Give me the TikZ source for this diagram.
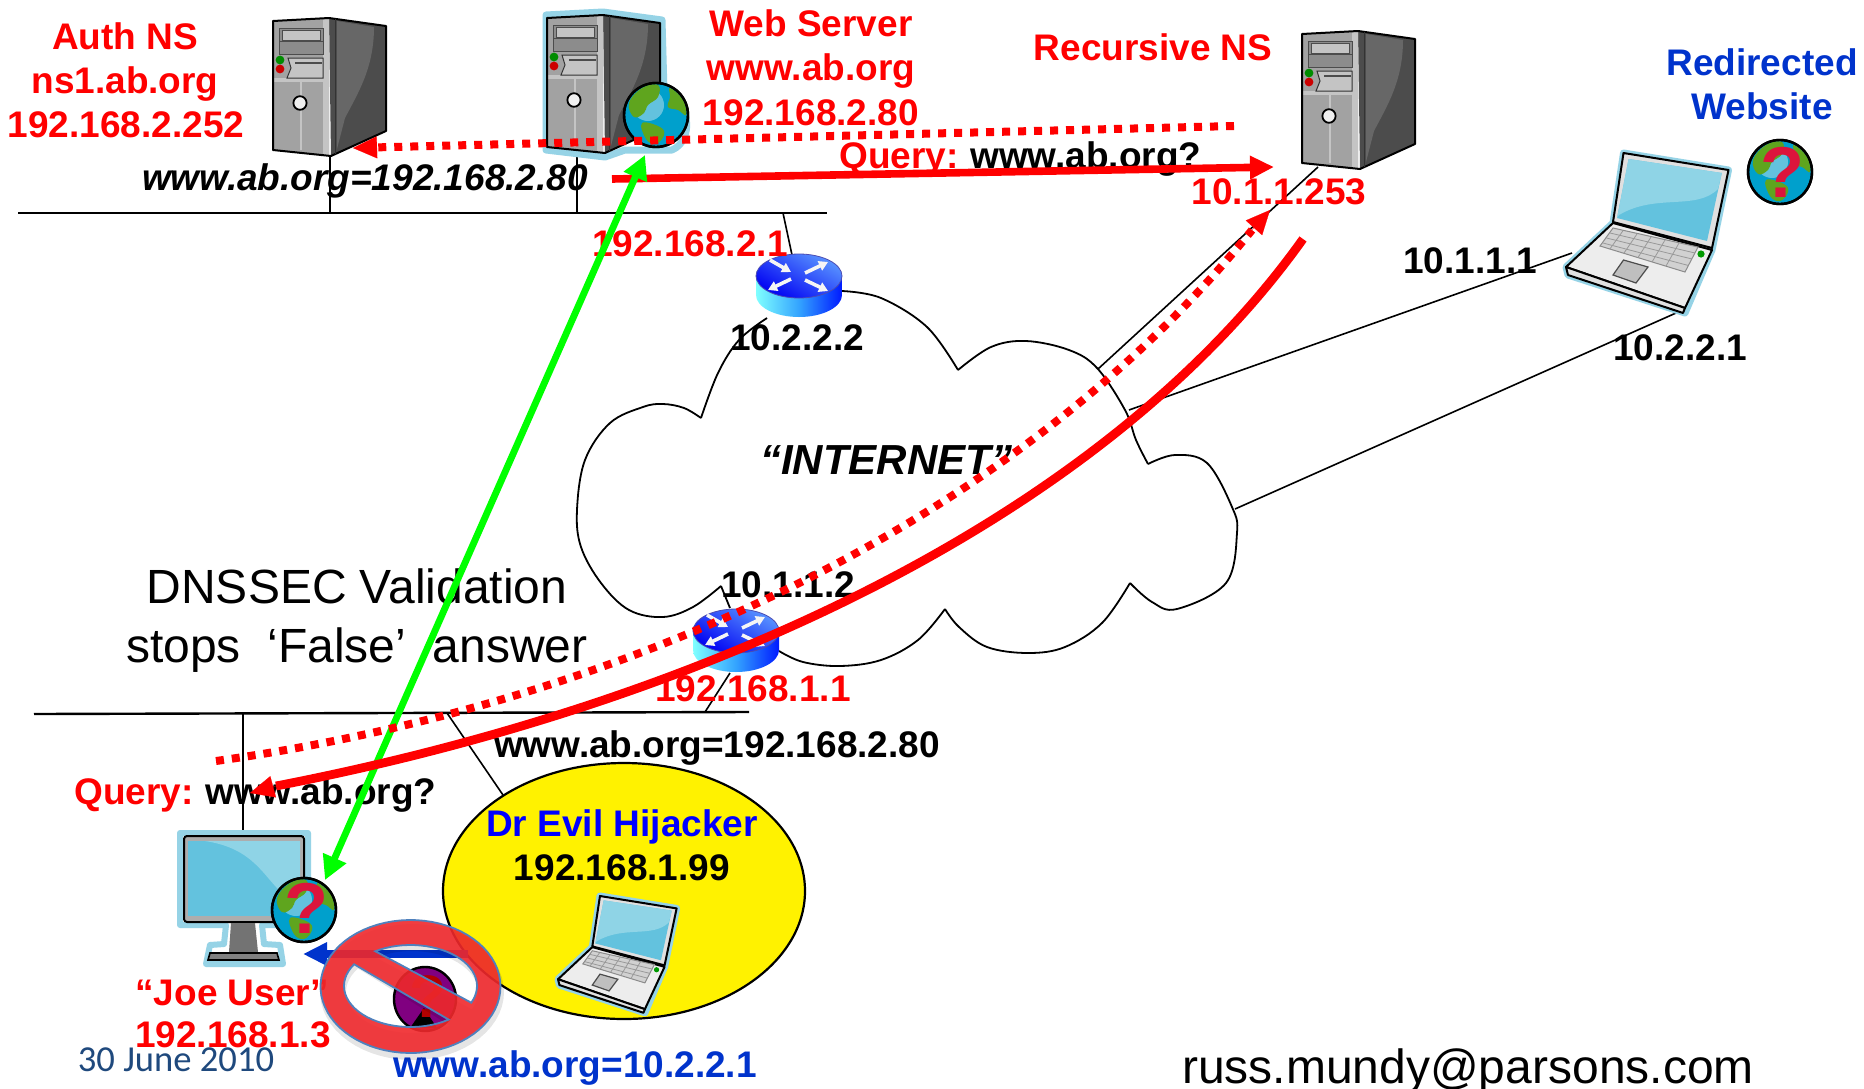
\documentclass[tikz,border=0pt]{standalone}
\usepackage{fontspec}
\setmainfont{Liberation Sans}
\newfontfamily\datefont{Carlito}
\usetikzlibrary{arrows.meta}
\newcommand\fpx[1]{\fontsize{#1}{#1}\selectfont}
\definecolor{redtxt}{HTML}{FF0000}
\definecolor{bluetxt}{HTML}{0033CC}
\definecolor{halo}{HTML}{96D3E6}
\definecolor{scrA}{HTML}{63C2DE}
\definecolor{scrB}{HTML}{8FD4E6}
\definecolor{landg}{HTML}{5FA51E}
\definecolor{seab}{HTML}{00A0CC}
\definecolor{qred}{HTML}{DC143C}
\definecolor{srvside}{HTML}{4C4C4C}
\definecolor{srvhi}{HTML}{676767}
\definecolor{srvfront}{HTML}{A2A2A2}
\definecolor{srvbay}{HTML}{8C8C8C}
\definecolor{srvedge}{HTML}{C4C4C4}
\definecolor{datecol}{HTML}{1F497D}
\definecolor{purp}{HTML}{800080}
\tikzset{
  lbl/.style={font=\fpx{18.5}\bfseries,anchor=mid,inner sep=0pt,text=black},
  rlbl/.style={lbl,text=redtxt},
  blbl/.style={lbl,text=bluetxt},
  biglbl/.style={font=\fpx{24},anchor=mid,inner sep=0pt,text=black},
  wire/.style={draw=black,line width=.8pt},
  bus/.style={draw=black,line width=1.2pt},
  cloudline/.style={draw=black,line width=.9pt},
  redsolid/.style={draw=redtxt,line width=3.8pt},
  reddots/.style={draw=redtxt,line width=4pt,dash pattern=on 4pt off 4pt},
  head/.style={-{Triangle[length=12pt,width=11pt]}},
  pics/server/.style={code={
    \fill[srvside] (56,0) -- (113,8) -- (113,113) -- (58,138) -- cycle;
    \fill[srvhi] (64,3) -- (101,9) .. controls (101,50) and (85,75) .. (72,100) -- (64,131) -- cycle;
    \fill[srvfront] (0,3) -- (56,0) -- (56,138) -- (0,132) -- cycle;
    \fill[srvedge] (50,1) -- (56,0) -- (56,138) -- (50,137) -- cycle;
    \fill[srvedge] (1,60) rectangle (50,64);
    \fill[srvbay] (6,10) rectangle (50,36);
    \draw[black!70,line width=.5pt,fill=srvedge] (9,12) rectangle (47,22);
    \draw[black!70,line width=.5pt] (6,10) rectangle (50,36);
    \draw[black!70,line width=.5pt] (6,23) -- (50,23);
    \fill[green!55!black] (7,42) circle[radius=2.2pt];
    \fill[red!80!black] (7,51) circle[radius=2.2pt];
    \draw[black!80,line width=.5pt,fill=srvedge] (15,40) -- (50,40) -- (50,60) -- (14,60) -- (18,50) -- cycle;
    \fill[black!70] (22,44) rectangle (49,46);
    \draw[srvedge,line width=.7pt] (28,64) -- (28,132);
    \draw[black,line width=.9pt,fill=black!6] (27,85) ellipse[x radius=3.3pt,y radius=3.4pt];
    \draw[black,line width=1pt,line join=round] (0,3) -- (56,0) -- (113,8) -- (113,113) -- (58,138) -- (0,132) -- cycle;
    \draw[black!80,line width=.5pt] (62,1) -- (62,136);
  }},
  pics/laptop/.style={code={
    \draw[halo,line width=3.5pt,line join=round,fill=white] (57.5,0) -- (162.5,17) -- (146,97) -- (119,160) -- (2,122) -- (0,114) -- (47,70) -- cycle;
    \draw[black,line width=1pt,fill=black!12,line join=round] (57.5,0) -- (162.5,17) -- (146,95) -- (47,69) -- cycle;
    \fill[scrA] (62.6,6) -- (155.8,20) -- (141,88) -- (51,65) -- cycle;
    \fill[scrB] (62.6,6) -- (155.8,20) -- (152,36) .. controls (130,58) and (90,40) .. (53,62) -- (51,65) -- cycle;
    \draw[black,line width=1pt,fill=black!7,line join=round] (47,70) -- (146,97) -- (119,155) -- (0,114) -- cycle;
    \draw[black,line width=1pt,fill=black!12,line join=round] (0,114) -- (119,155) -- (117,160) -- (2,122) -- cycle;
    \draw[black!45,fill=black!18,line width=.5pt] (47,75) -- (132,94) -- (119,119) -- (34,93) -- cycle;
    \draw[black!40,line width=.4pt] (44,80) -- (129,100) (40.5,85) -- (126,106) (37,90) -- (122.5,112.5);
    \draw[black!40,line width=.4pt] (57,77.7) -- (44,95.8) (71,81) -- (58,100) (85,84) -- (72,104.5) (99,87) -- (86,109) (113,90) -- (100,113);
    \draw[black!70,fill=black!25,line width=.6pt] (57.5,107) -- (82,114) -- (70,130) -- (47,122) -- cycle;
    \fill[green!60!black] (135,101) circle[radius=1.8pt];
  }},
  pics/router/.style={code={
    \shade[left color=cyan!50!white,right color=blue!90!cyan,middle color=blue!45!cyan!80]
      (0,22) -- (0,41) .. controls (0,53) and (19,63) .. (43,63) .. controls (67,63) and (86,53) .. (86,41) -- (86,22) -- cycle;
    \shade[left color=cyan!35!blue!65,right color=blue!95!black,shading angle=-30,draw=gray!60!blue,line width=.4pt]
      (0,22) .. controls (0,10) and (19,0) .. (43,0) .. controls (67,0) and (86,10) .. (86,22) .. controls (86,34) and (67,44) .. (43,44) .. controls (19,44) and (0,34) .. (0,22) -- cycle;
    \draw[white!92!gray,line width=1.8pt,-{Triangle[length=4.5pt,width=5pt]}] (14,6) -- (35,18);
    \draw[white!92!gray,line width=1.8pt,-{Triangle[length=4.5pt,width=5pt]}] (49,19) -- (72,8);
    \draw[white!92!gray,line width=1.8pt,-{Triangle[length=4.5pt,width=5pt]}] (35,25) -- (12,36);
    \draw[white!92!gray,line width=1.8pt,-{Triangle[length=4.5pt,width=5pt]}] (49,26) -- (72,37);
  }},
  pics/globe/.style={code={
    \draw[black,line width=1.2pt,fill=seab] (0,0) circle[radius=16pt];
    \fill[scrA] (-8,-10) circle[radius=8pt];
    \fill[landg] plot[smooth cycle,tension=.7] coordinates {(-27,-12) (-14,-27) (2,-30) (2,-18) (-8,-10) (-12,-2) (-22,2)};
    \fill[landg] plot[smooth cycle,tension=.7] coordinates {(14,-27) (27,-15) (30,0) (22,-5) (12,-8) (14,-18)};
    \fill[landg] plot[smooth cycle,tension=.7] coordinates {(-14,8) (4,12) (8,20) (0,29) (-10,24)};
    \draw[black,line width=1.2pt] (0,0) circle[radius=16pt];
  }},
}
\begin{document}
\begin{tikzpicture}[x=0.5pt,y=-0.5pt]
\useasboundingbox (0,0) rectangle (1864,1088);
\fill[white] (0,0) rectangle (1864,1088);

% named ends
\coordinate (busAl) at (18,213);   \coordinate (busAr) at (827,213);
\coordinate (busBl) at (34,714);   \coordinate (busBr) at (749,712);
\coordinate (authFoot) at (330,157); \coordinate (authTap) at (330,213);
\coordinate (webFoot) at (577,153);  \coordinate (webTap) at (577,213);
\coordinate (r1Tap) at (783,213);    \coordinate (r1Top) at (792,255);
\coordinate (r2Foot) at (730,673);   \coordinate (r2Tap) at (705,712);
\coordinate (joeTap) at (243,714);   \coordinate (joeTop) at (243,830);
\coordinate (evilTap) at (447,713);  \coordinate (evilTop) at (503,795);
\coordinate (recFoot) at (1318,167); \coordinate (cloudA) at (1098,369);
\coordinate (lapA) at (1572,253);    \coordinate (cloudB) at (1129,410);
\coordinate (lapB) at (1676,313);    \coordinate (cloudC) at (1235,509);

% LANs and links
\draw[bus] (busAl) -- (busAr);
\draw[bus] (busBl) -- (busBr);
\draw[wire] (authFoot) -- (authTap);
\draw[wire] (webFoot) -- (webTap);
\draw[wire] (r1Tap) -- (r1Top);
\draw[wire] (r2Foot) -- (r2Tap);
\draw[wire] (joeTap) -- (joeTop);
\draw[wire] (evilTap) -- (evilTop);
\draw[wire] (recFoot) -- (cloudA);
\draw[wire] (lapA) -- (cloudB);
\draw[wire] (lapB) -- (cloudC);

% cloud
\draw[cloudline] plot[smooth,tension=.6] coordinates {(842,291) (881,298) (927,327) (958,370)};
\draw[cloudline] plot[smooth,tension=.6] coordinates {(958,370) (991,347) (1026,341) (1069,350) (1097,368) (1125,410) (1136,440) (1148,464)};
\draw[cloudline] plot[smooth,tension=.6] coordinates {(1148,464) (1175,455) (1207,463) (1232,507) (1237,533) (1226,583) (1177,609) (1152,602) (1130,583)};
\draw[cloudline] plot[smooth,tension=.6] coordinates {(1130,583) (1102,623) (1065,647) (1028,653) (987,647) (959,627) (945,609)};
\draw[cloudline] plot[smooth,tension=.6] coordinates {(945,609) (918,640) (881,660) (840,666) (803,662) (779,651)};
\draw[cloudline] (730,608) -- (721,586);
\draw[cloudline] plot[smooth,tension=.6] coordinates {(721,586) (693,607) (663,617) (629,610) (601,583) (581,547) (577,510) (585,460) (610,423) (643,407) (663,404) (684,408) (701,418)};
\draw[cloudline] plot[smooth,tension=.6] coordinates {(701,418) (718,373) (739,340) (767,318)};

% yellow ellipse
\draw[black,line width=1.1pt,fill=yellow] (624,891) ellipse[x radius=90.5pt,y radius=64pt];

% devices
\pic (authsrv) at (273,18) {server};
\draw[halo,line width=3.5pt,line join=round,fill=white] (546,15) -- (603,12) -- (662,20) -- (664,92) .. controls (690,100) and (695,140) .. (672,150) -- (625,150) -- (605,157) -- (546,150) -- cycle;
\pic (websrv) at (547,15) {server};
\pic (webglobe) at (656,115) {globe};
\pic (recsrv) at (1302,31) {server};

\pic (rtrA) at (756,254) {router};
\pic (rtrB) at (693,609) {router};

\pic (lapR) at (1566,153) {laptop};
\pic[scale=.73] (lapE) at (558,896) {laptop};
\pic (globeR) at (1780,172) {globe};
\node[font=\fpx{36}\bfseries,text=qred,inner sep=0pt] (qR) at (1782,172) {?};

% monitor
\draw[halo,line width=3pt,line join=round,fill=white] (180,833) -- (308,833) -- (308,925) -- (262,925) -- (264,944) -- (280,945) -- (283,964) -- (206,964) -- (210,945) -- (224,944) -- (226,925) -- (180,925) -- cycle;
\draw[black,line width=1pt,fill=black!32,rounded corners=1.5pt] (184,836) rectangle (304,922);
\fill[scrA] (188,841) rectangle (300,916);
\fill[scrB] (205,841) -- (300,841) -- (300,905) .. controls (265,890) and (265,850) .. (205,841) -- cycle;
\fill[black!55] (231,923) -- (255,923) -- (258,952) -- (229,952) -- cycle;
\draw[black,line width=.8pt,fill=black!50] (210,953) -- (277,953) -- (279,960) -- (208,960) -- cycle;
\pic (globeJ) at (304,910) {globe};
\node[font=\fpx{36}\bfseries,text=qred,inner sep=0pt] (qJ) at (306,908) {?};

% hidden globe, blue arrow
\coordinate (blueS) at (468,954); \coordinate (blueT) at (303,954);
\draw[bluetxt,line width=3.6pt,-{Triangle[length=12pt,width=11pt]}] (blueS) -- (blueT);
\draw[black,line width=1.2pt,fill=purp] (425,999) ellipse[x radius=15.5pt,y radius=16pt];
\fill[black] (410,1028) -- (424,1008) -- (437,1028) -- cycle;
\node[font=\fpx{30}\bfseries,text=red!70!black,inner sep=0pt] (qE) at (428,997) {?};

% texts
\node[rlbl] (t1) at (125,44) {Auth NS};
\node[rlbl] (t2) at (125,88) {ns1.ab.org};
\node[rlbl] (t3) at (126,132) {192.168.2.252};
\node[rlbl] (t4) at (811,31) {Web Server};
\node[rlbl] (t5) at (811,75) {www.ab.org};
\node[rlbl] (t6) at (811,120) {192.168.2.80};
\node[rlbl] (t7) at (1153,55) {Recursive NS};
\node[blbl] (t8) at (1762,70) {Redirected};
\node[blbl] (t9) at (1762,114) {Website};
\node[lbl,font=\fpx{18.5}\bfseries\itshape] (t10) at (365,185) {www.ab.org=192.168.2.80};
\node[rlbl,anchor=west] (t11) at (839,159) {Query:\hspace{-1pt} \textcolor{black}{www.ab.org?}};
\node[rlbl] (t12) at (1279,199) {10.1.1.253};
\node[rlbl] (t13) at (690,251) {192.168.2.1};
\node[lbl] (t14) at (797,345) {10.2.2.2};
\node[lbl] (t15) at (1470,268) {10.1.1.1};
\node[lbl] (t16) at (1680,355) {10.2.2.1};
\node[lbl,font=\fpx{21}\bfseries\itshape] (t17) at (886,469) {“INTERNET”};
\node[lbl] (t18) at (788,592) {10.1.1.2};
\node[rlbl] (t19) at (753,696) {192.168.1.1};
\node[biglbl] (t20) at (357,598) {DNSSEC Validation};
\node[biglbl] (t21) at (357,657) {stops\ \ ‘False’\ \ answer};
\node[lbl] (t22) at (717,752) {www.ab.org=192.168.2.80};
\node[rlbl,anchor=west] (t23) at (74,795) {Query:\hspace{-1pt} \textcolor{black}{www.ab.org?}};
\node[lbl,text=blue] (t24) at (622,831) {Dr Evil Hijacker};
\node[lbl] (t25) at (622,875) {192.168.1.99};
\node[rlbl] (t26) at (232,1000) {“Joe User”};
\node[rlbl] (t27) at (233,1042) {192.168.1.3};
\node[blbl] (t28) at (575,1072) {www.ab.org=10.2.2.1};
\node[biglbl] (t29) at (1468,1078) {russ.mundy@parsons.com};
\node[font=\fpx{18.3}\datefont,anchor=mid,inner sep=0pt,text=datecol] (t30) at (176,1066) {30 June 2010};

% prohibition sign: shadow then ring
\fill[black,opacity=.10,even odd rule]
  plot[domain=0:360,samples=60] ({412+92*cos(\x)},{992+68*sin(\x)}) -- cycle
  plot[domain=-123:25,samples=30] ({412+66*cos(\x)},{992+41*sin(\x)}) -- cycle
  plot[domain=55:215,samples=30] ({412+66*cos(\x)},{992+41*sin(\x)}) -- cycle;
\path[fill={rgb,255:red,240;green,40;blue,44},fill opacity=.9,draw={rgb,255:red,79;green,129;blue,189},line width=.9pt,even odd rule]
  plot[domain=0:360,samples=72] ({410.5+90*cos(\x)},{986.5+66.5*sin(\x)}) -- cycle
  plot[domain=-122:24,samples=30] ({410.5+66.5*cos(\x)},{986+41*sin(\x)}) -- cycle
  plot[domain=55:212,samples=30] ({410.5+66.5*cos(\x)},{986+41*sin(\x)}) -- cycle;

% connectors on top
\coordinate (dotS) at (1234,126); \coordinate (dotT) at (353,148);
\coordinate (dotH) at (372,147.5);
\draw[reddots] (dotS) -- (dotH);
\draw[redtxt,line width=.1pt,-{Triangle[length=12pt,width=11pt]}] (dotH) -- (dotT);
\coordinate (solS) at (612,179); \coordinate (solT) at (1274,167);
\draw[redsolid,head] (solS) -- (solT);
\coordinate (grnA) at (645,155); \coordinate (grnB) at (325,880);
\draw[green,line width=3.4pt,{Triangle[length=12pt,width=12pt]}-{Triangle[length=12pt,width=12pt]}] (grnA) -- (grnB);
\coordinate (curS) at (1303,239); \coordinate (curH) at (276,786); \coordinate (curT) at (250,793);
\coordinate (dcurS) at (216,761); \coordinate (dcurH) at (1252,230); \coordinate (dcurT) at (1270,210);
\draw[reddots] (dcurS) .. controls (650,700) and (1030,505) .. (dcurH);
\draw[redtxt,line width=.1pt,-{Triangle[length=12pt,width=11pt]}] (dcurH) -- (dcurT);
\draw[redsolid,line width=4.4pt] (curS) .. controls (1110,510) and (720,700) .. (curH);
\draw[redtxt,line width=.1pt,-{Triangle[length=12pt,width=11pt]}] (curH) -- (curT);
\end{tikzpicture}
\end{document}
